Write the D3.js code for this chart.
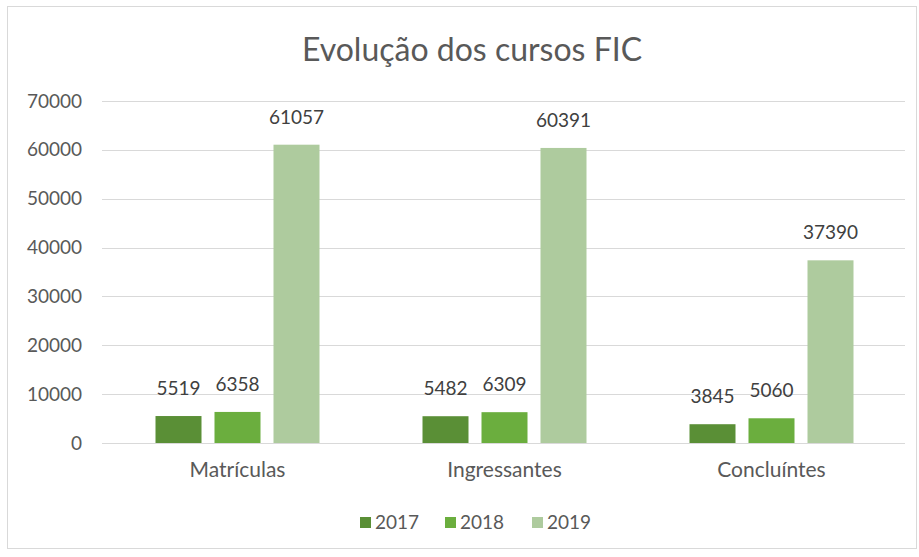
<!DOCTYPE html>
<html><head><meta charset="utf-8">
<script src="https://cdn.jsdelivr.net/npm/d3@7"></script>
<style>html,body{margin:0;padding:0;background:#fff;}svg{display:block;font-family:Lato,"Open Sans",sans-serif;}</style>
</head><body><svg id="c" width="919" height="557"></svg>
<script>
const categories = ["Matrículas", "Ingressantes", "Concluíntes"];
const seriesNames = ["2017", "2018", "2019"];
const values2017 = [5519, 5482, 3845];
const values2018 = [6358, 6309, 5060];
const values2019 = [61057, 60391, 37390];
const yTicks = [0, 10000, 20000, 30000, 40000, 50000, 60000, 70000];
const colors = ["#5a8f36", "#6bae3e", "#aecb9e"];
const title = "Evolução dos cursos FIC";

const series = [values2017, values2018, values2019];
const svg = d3.select("#c");
const m = {left: 104, right: 905, top: 101, bottom: 443};

svg.append("rect").attr("x", 7.5).attr("y", 6.5).attr("width", 909).attr("height", 542)
  .attr("fill", "#fff").attr("stroke", "#d9d9d9");

const x0 = d3.scaleBand().domain(categories).range([m.left, m.right]).paddingInner(0).paddingOuter(0);
const y = d3.scaleLinear().domain([0, 70000]).range([m.bottom, m.top]);

// gridlines
svg.append("g").selectAll("line").data(yTicks).join("line")
  .attr("x1", m.left - 2).attr("x2", m.right)
  .attr("y1", d => Math.round(y(d)) + 0.5).attr("y2", d => Math.round(y(d)) + 0.5)
  .attr("stroke", "#d9d9d9").attr("stroke-width", 1);

// y axis labels
const yAxis = d3.axisLeft(y).tickValues(yTicks).tickSize(0).tickPadding(0).tickFormat(d3.format("d"));
const ga = svg.append("g").attr("transform", `translate(82,0)`).call(yAxis);
ga.select(".domain").remove();
ga.selectAll("text").attr("fill", "#595959").style("font-size", "19px").style("font-family", "Lato,sans-serif");

// bars
const bw = 46, step = 59;
const groupW = step * 2 + bw;
categories.forEach((c, ci) => {
  const cx = x0(c) + x0.bandwidth() / 2;
  series.forEach((vals, si) => {
    const bx = cx - groupW / 2 + si * step;
    const v = vals[ci];
    svg.append("rect").attr("x", bx).attr("y", y(v)).attr("width", bw)
      .attr("height", y(0) - y(v)).attr("fill", colors[si]);
    svg.append("text").attr("x", bx + bw / 2).attr("y", y(v) - 21)
      .attr("text-anchor", "middle").attr("fill", "#404040")
      .style("font-size", "19px").text(v);
  });
});

// category labels
const xAxis = d3.axisBottom(x0).tickSize(0).tickPadding(0);
const gx = svg.append("g").attr("transform", `translate(0,${m.bottom + 34})`).call(xAxis);
gx.select(".domain").remove();
gx.selectAll("text").attr("fill", "#595959").style("font-size", "21px").style("font-family", "Lato,sans-serif").attr("dy", 0);

// title
svg.append("text").attr("x", 472).attr("y", 61).attr("text-anchor", "middle")
  .attr("fill", "#595959").style("font-size", "32px").text(title);

// legend
const legX = [360, 445, 532];
seriesNames.forEach((s, i) => {
  svg.append("rect").attr("x", legX[i]).attr("y", 517).attr("width", 11).attr("height", 11).attr("fill", colors[i]);
  svg.append("text").attr("x", legX[i] + 15).attr("y", 529).attr("fill", "#595959")
    .style("font-size", "19px").text(s);
});
</script></body></html>
